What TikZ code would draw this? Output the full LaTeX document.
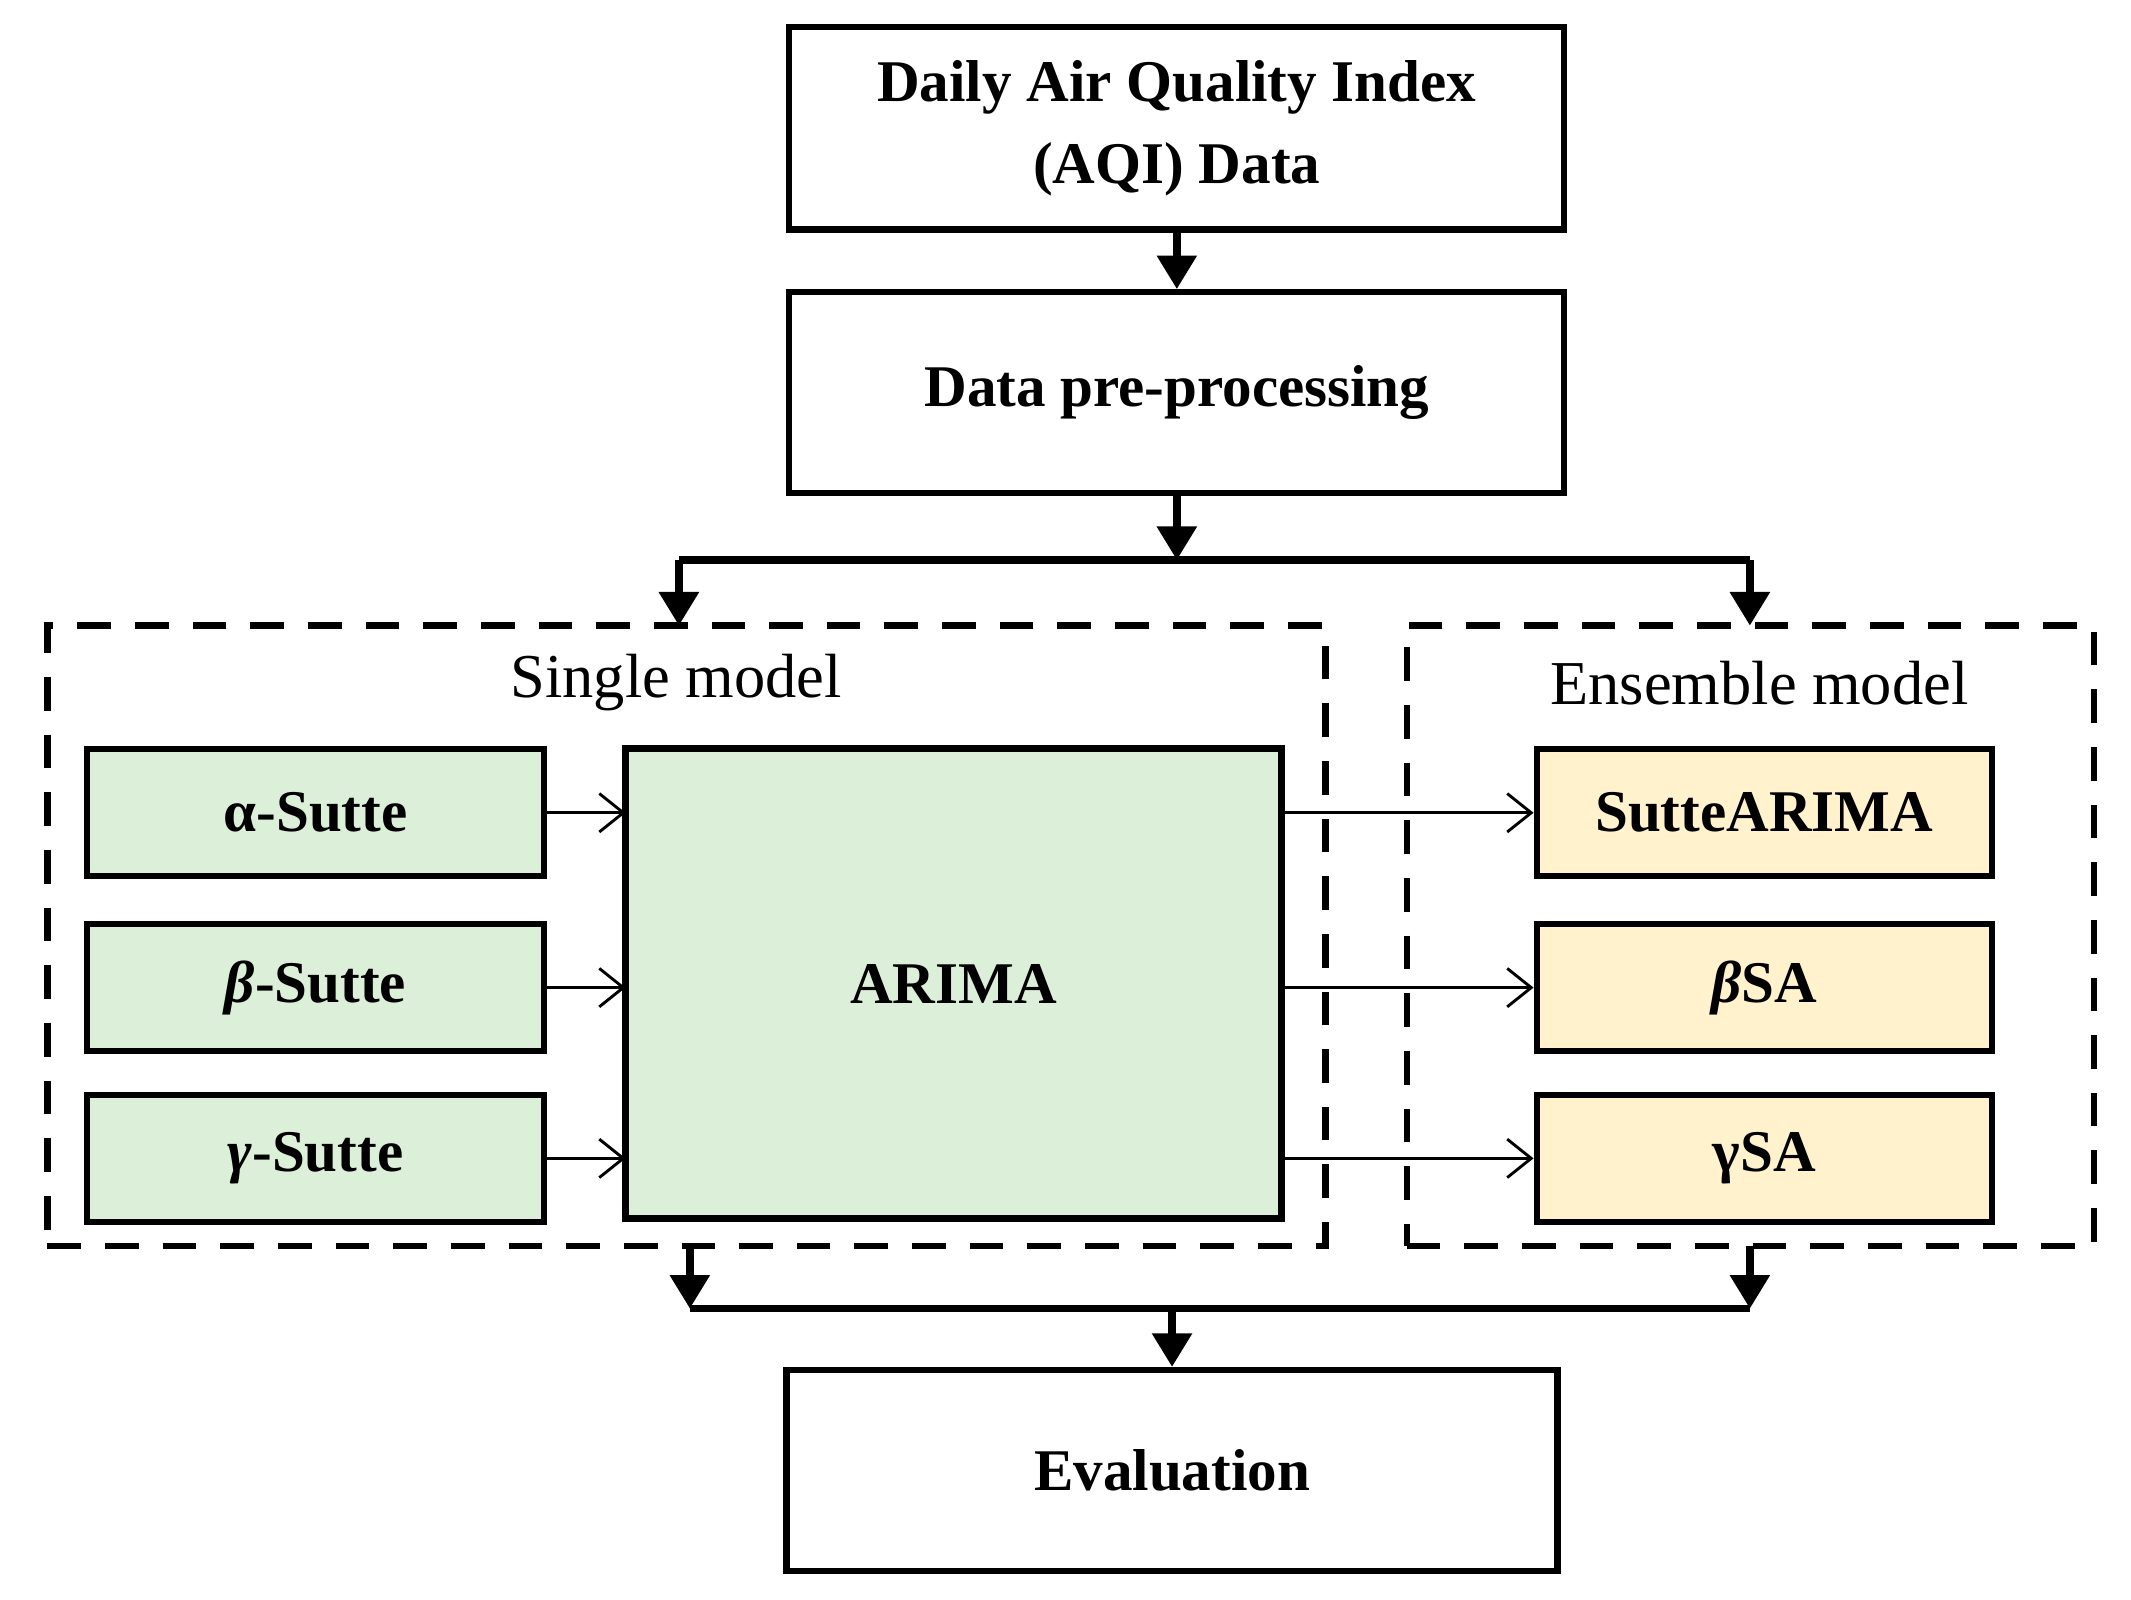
\documentclass[tikz,border=0pt]{standalone}
\usepackage{fontspec}
\setmainfont{Liberation Serif}
\usetikzlibrary{arrows.meta}
\definecolor{gr}{HTML}{DCEFD9}
\definecolor{ye}{HTML}{FFF2CC}
\begin{document}
\begin{tikzpicture}[x=0.01cm,y=-0.01cm,
 box/.style={draw,line width=1.3pt,inner sep=0pt,font=\fontsize{12.3}{17}\selectfont\bfseries,align=center},
 dashbox/.style={draw,line width=1.3pt,dash pattern=on 7pt off 5pt},
 thick arr/.style={line width=1.6pt,-{Triangle[length=7pt,width=8pt]}},
 thin arr/.style={line width=0.6pt,-{Straight Barb[length=5pt,width=8pt]}},
 lab/.style={font=\fontsize{13}{17}\selectfont}]
\useasboundingbox (0,0) rectangle (1560,1171);
\node[box,minimum width=5.67cm,minimum height=1.48cm] (aqi) at (861.5,94) {Daily Air Quality Index\\(AQI) Data};
\node[box,minimum width=5.67cm,minimum height=1.47cm] (pre) at (861.5,287.5) {Data pre-processing};
\node[box,minimum width=5.64cm,minimum height=1.47cm] (ev) at (858,1076.5) {Evaluation};
\draw[thick arr] (aqi) -- (pre);
\node[dashbox,minimum width=9.35cm,minimum height=4.54cm,inner sep=0pt] (sg) at (502.5,685) {};
\node[dashbox,minimum width=5.03cm,minimum height=4.54cm,inner sep=0pt] (en) at (1281.5,685) {};
\node[lab] (sl) at (495,500) {Single model};
\node[lab] (el) at (1288,500) {Ensemble model};
\coordinate (j1) at (861.5,410);
\coordinate (jl) at (497,410);
\coordinate (jr) at (1281,410);
\draw[thick arr] (pre) -- (j1);
\draw[line width=1.6pt] (jl) -- (jr);
\draw[thick arr] (jl) -- (497,458);
\draw[thick arr] (jr) -- (1281,458);
\node[box,fill=gr,minimum width=4.8cm,minimum height=3.44cm] (ar) at (698,720) {ARIMA};
\foreach \n/\t/\y in {a/{α-Sutte}/595, b/{\itshape β\upshape-Sutte}/723, g/{\itshape γ\upshape-Sutte}/848}{
 \node[box,fill=gr,minimum width=3.34cm,minimum height=0.93cm] (\n) at (231,\y) {\t};
 \draw[thin arr] (\n.east) -- (458,\y);
}
\foreach \n/\t/\y in {sa/{SutteARIMA}/595, bs/{\itshape β\upshape SA}/723, gs/{γSA}/848}{
 \node[box,fill=ye,minimum width=3.33cm,minimum height=0.93cm] (\n) at (1291.5,\y) {\t};
 \draw[thin arr] (938,\y) -- (\n.west);
}
\coordinate (bl) at (505,958);
\coordinate (br) at (1281,958);
\coordinate (bm) at (858,958);
\draw[thick arr] (505,912) -- (bl);
\draw[thick arr] (1281,912) -- (br);
\draw[line width=1.6pt] (bl) -- (br);
\draw[thick arr] (bm) -- (ev);
\end{tikzpicture}
\end{document}
